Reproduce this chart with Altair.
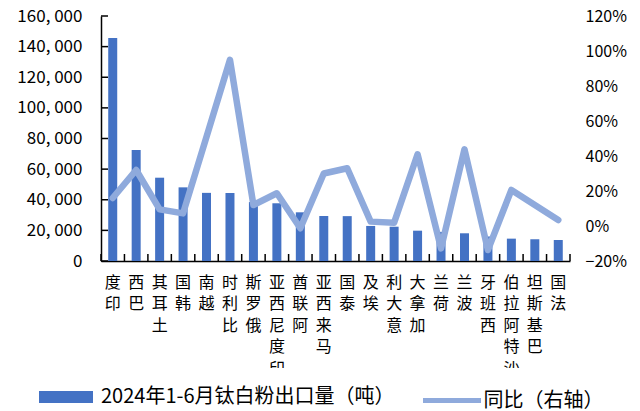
import altair as alt
import pandas as pd

# Top export destinations, Jan-Jun 2024
countries = ["印度", "巴西", "土耳其", "韩国", "越南", "比利时", "俄罗斯", "印度尼西亚",
             "阿联酋", "马来西亚", "泰国", "埃及", "意大利", "加拿大", "荷兰", "波兰",
             "西班牙", "沙特阿拉伯", "巴基斯坦", "法国"]
# Export volume (tonnes)
export_t = [145600, 72500, 54400, 48100, 44500, 44400, 38500, 37700, 31800, 29400,
            29300, 22900, 22400, 19800, 19000, 18100, 16000, 14600, 14200, 13700]
# Year-on-year change
yoy = [0.16, 0.32, 0.095, 0.072, 0.51, 0.95, 0.12, 0.187, -0.013, 0.30,
       0.33, 0.025, 0.019, 0.41, -0.128, 0.438, -0.137, 0.206, 0.12, 0.034]

left_ticks = [0, 20000, 40000, 60000, 80000, 100000, 120000, 140000, 160000]
right_ticks = [-0.2, 0, 0.2, 0.4, 0.6, 0.8, 1.0, 1.2]

BAR_LABEL = "2024年1-6月钛白粉出口量（吨）"
LINE_LABEL = "同比（右轴）"
BAR_COLOR = "#4472C4"
LINE_COLOR = "#8FAADC"
FONT = "Noto Sans CJK SC"

df = pd.DataFrame({"country": countries, "export": export_t, "yoy": yoy})
df["bar_series"] = BAR_LABEL
df["line_series"] = LINE_LABEL
tick_df = pd.DataFrame({"export": left_ticks})

W, H = 469, 245

x_enc = alt.X(
    "country:N", sort=countries,
    scale=alt.Scale(paddingInner=0, paddingOuter=0),
    axis=alt.Axis(
        title=None, ticks=False, domain=True, domainColor="black", domainWidth=1.5,
        labelAngle=0, labelAlign="center", labelBaseline="top", labelPadding=13,
        labelFont=FONT, labelFontSize=16, labelColor="black", labelLineHeight=21.5,
        # characters stacked vertically, read from the bottom up
        labelExpr="reverse(split(datum.label, ''))",
    ),
)

left_axis = alt.Axis(
    title=None, values=left_ticks, ticks=False, grid=False,
    domain=True, domainColor="black", domainWidth=1.5,
    labelPadding=19, labelFont=FONT, labelFontSize=17, labelColor="black",
    labelExpr="replace(format(datum.value, ','), ',', ', ')",
)
left_scale = alt.Scale(domain=[0, 160000], nice=False)

bars = alt.Chart(df).mark_bar(size=9).encode(
    x=x_enc,
    y=alt.Y("export:Q", scale=left_scale, axis=left_axis),
    fill=alt.Fill(
        "bar_series:N", scale=alt.Scale(range=[BAR_COLOR]),
        legend=alt.Legend(
            title=None, orient="none", legendX=-62, legendY=354, padding=0,
            symbolType="M-1,-0.222H1V0.222H-1Z", symbolSize=2916,
            symbolStrokeWidth=0, labelFont=FONT, labelFontSize=20,
            labelColor="black", labelLimit=500, labelOffset=8,
        ),
    ),
)

# Inward tick marks along the left axis
left_tick_marks = alt.Chart(tick_df).mark_rule(color="black", strokeWidth=1.5).encode(
    y=alt.Y("export:Q", scale=left_scale, axis=left_axis),
    x=alt.value(0),
    x2=alt.value(7),
)

# Inward tick marks at category boundaries along the bottom axis
bottom_ticks = alt.Chart(df).mark_rule(color="black", strokeWidth=1.5).encode(
    x=alt.X("country:N", sort=countries, bandPosition=0),
    y=alt.value(H),
    y2=alt.value(H - 7),
)
bottom_end_tick = alt.Chart(df).transform_filter(
    alt.datum.country == countries[-1]
).mark_rule(color="black", strokeWidth=1.5).encode(
    x=alt.X("country:N", sort=countries, bandPosition=1),
    y=alt.value(H),
    y2=alt.value(H - 7),
)

# White band between the category labels and the legend row
label_mask = alt.Chart(pd.DataFrame({"k": [0]})).mark_rect(color="white").encode(
    x=alt.value(-101),
    x2=alt.value(W + 70),
    y=alt.value(352),
    y2=alt.value(371),
)

left_layer = alt.layer(bars, left_tick_marks, bottom_ticks, bottom_end_tick, label_mask)

line = alt.Chart(df).mark_line(strokeWidth=6.5, strokeCap="round", strokeJoin="round").encode(
    x=alt.X("country:N", sort=countries),
    y=alt.Y(
        "yoy:Q", scale=alt.Scale(domain=[-0.2, 1.2], nice=False),
        axis=alt.Axis(
            title=None, orient="right", values=right_ticks, format=".0%",
            ticks=False, domain=False, grid=False, labelPadding=15,
            labelFont=FONT, labelFontSize=16, labelColor="black",
        ),
    ),
    stroke=alt.Stroke(
        "line_series:N", scale=alt.Scale(range=[LINE_COLOR]),
        legend=alt.Legend(
            title=None, orient="none", legendX=319.5, legendY=353, padding=0,
            symbolType="stroke", symbolSize=3364, symbolStrokeWidth=5,
            labelFont=FONT, labelFontSize=20, labelColor="black",
            labelLimit=500, labelOffset=0,
        ),
    ),
)

chart = alt.layer(left_layer, line).resolve_scale(y="independent").properties(
    width=W, height=H,
    autosize="none",
    padding={"left": 101, "top": 16, "right": 70, "bottom": 150},
    background="white",
).configure_view(stroke=None)

chart.save("out.html", embed_options={"renderer": "svg", "actions": False})
